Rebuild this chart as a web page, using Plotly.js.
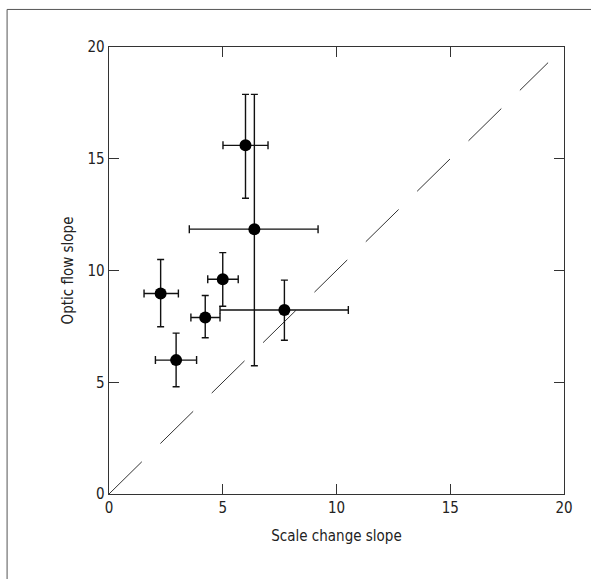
<!DOCTYPE html>
<html>
<head>
<meta charset="utf-8">
<script src="https://cdn.plot.ly/plotly-3.0.1.min.js"></script>
<style>html,body{margin:0;padding:0;background:#fff;}#chart{width:591px;height:579px;}</style>
</head>
<body>
<div id="chart"></div>
<script>
// Data
var scaleChange = [6.0, 6.39, 2.27, 5.0, 4.23, 2.95, 7.71];
var opticFlow   = [15.6, 11.85, 8.97, 9.61, 7.9, 5.99, 8.23];
var xErrPlus    = [0.99, 2.8, 0.78, 0.68, 0.65, 0.9, 2.81];
var xErrMinus   = [0.99, 2.86, 0.73, 0.66, 0.63, 0.91, 2.83];
var yErrPlus    = [2.28, 6.03, 1.52, 1.19, 0.98, 1.21, 1.34];
var yErrMinus   = [2.37, 6.11, 1.49, 1.21, 0.91, 1.19, 1.35];
var identityX   = [0, 19.3];
var identityY   = [0, 19.3];
var tickVals    = [0, 5, 10, 15, 20];
var tickText    = ['0', '5', '10', '15', '20'];

var font = '"Liberation Sans Narrow", "DejaVu Sans Condensed", Arial, sans-serif';

var traces = [
  {
    x: identityX, y: identityY, mode: 'lines', type: 'scatter',
    line: {color: '#333', width: 1, dash: '46px,26px'},
    hoverinfo: 'skip', showlegend: false
  },
  {
    x: scaleChange, y: opticFlow, mode: 'markers', type: 'scatter',
    marker: {color: '#000', size: 12, symbol: 'circle'},
    error_x: {type: 'data', symmetric: false, array: xErrPlus, arrayminus: xErrMinus,
              color: '#111', thickness: 1.4, width: 4},
    error_y: {type: 'data', symmetric: false, array: yErrPlus, arrayminus: yErrMinus,
              color: '#111', thickness: 1.4, width: 3.5},
    showlegend: false
  }
];

var axisCommon = {
  range: [0, 20], tickvals: tickVals, ticktext: tickText,
  ticks: 'inside', ticklen: 10, tickwidth: 1.3, tickcolor: '#333',
  showline: true, linecolor: '#333', linewidth: 1.3, mirror: 'allticks',
  showgrid: false, zeroline: false, fixedrange: true,
  tickfont: {family: font, size: 15, color: '#222'}
};

var layout = {
  width: 591, height: 579,
  margin: {l: 109, r: 27, t: 46.5, b: 85},
  paper_bgcolor: '#fff', plot_bgcolor: '#fff',
  xaxis: Object.assign({}, axisCommon, {
    title: {text: 'Scale change slope', font: {family: font, size: 15, color: '#222'}, standoff: 14}
  }),
  yaxis: Object.assign({}, axisCommon, {
    title: {text: 'Optic flow slope', font: {family: font, size: 15, color: '#222'}, standoff: 10}
  }),
  shapes: [{
    type: 'rect', xref: 'paper', yref: 'paper',
    x0: -0.224, x1: 1.3, y0: -0.4, y1: 1.084,
    line: {color: '#555', width: 1}, fillcolor: 'rgba(0,0,0,0)', layer: 'below'
  }],
  showlegend: false
};

Plotly.newPlot('chart', traces, layout, {displayModeBar: false, staticPlot: true});
</script>
</body>
</html>
